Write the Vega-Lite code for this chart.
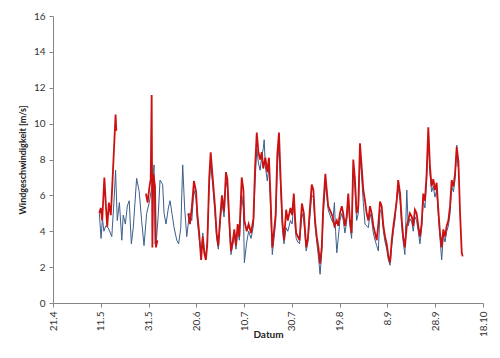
{
  "$schema": "https://vega.github.io/schema/vega-lite/v6.json",
  "width": 430,
  "height": 287,
  "autosize": "none",
  "padding": {"left": 53, "top": 16, "right": 17, "bottom": 55},
  "background": "white",
  "config": {"view": {"stroke": null}, "font": "Lato"},
  "datasets": {
    "blau": [
      {"day":19.4,"speed":5.0},{"day":20.1,"speed":3.6},{"day":20.7,"speed":4.7},{"day":21.3,"speed":4.0},{"day":22.1,"speed":4.3},{"day":23.1,"speed":4.2},{"day":24.6,"speed":3.7},{"day":25.5,"speed":5.6},{"day":26.2,"speed":7.4},{"day":26.9,"speed":4.6},{"day":27.8,"speed":5.6},{"day":28.8,"speed":3.5},{"day":29.4,"speed":4.9},{"day":30.3,"speed":4.4},{"day":31.1,"speed":5.4},{"day":31.9,"speed":5.7},{"day":32.8,"speed":3.3},{"day":33.6,"speed":4.2},{"day":35.0,"speed":6.95},{"day":36.1,"speed":6.2},{"day":37.1,"speed":4.6},{"day":38.1,"speed":3.2},{"day":39.2,"speed":5.0},{"day":40.3,"speed":5.6},{"day":41.4,"speed":6.5},{"day":42.3,"speed":7.7},{"day":42.7,"speed":3.3},{"day":43.4,"speed":3.7},{"day":44.1,"speed":5.0},{"day":44.8,"speed":6.85},{"day":45.9,"speed":6.6},{"day":46.5,"speed":5.0},{"day":47.3,"speed":4.4},{"day":48.3,"speed":5.3},{"day":49.0,"speed":5.7},{"day":49.8,"speed":5.0},{"day":50.7,"speed":4.2},{"day":51.8,"speed":3.5},{"day":52.6,"speed":3.3},{"day":53.5,"speed":4.2},{"day":54.3,"speed":7.7},{"day":55.1,"speed":5.3},{"day":56.0,"speed":3.7},{"day":57.1,"speed":5.0},
      {"day":58.1,"speed":4.6},{"day":59.0,"speed":6.3},{"day":59.9,"speed":5.8},{"day":60.4,"speed":4.6},{"day":61.2,"speed":3.6},{"day":62.0,"speed":2.7},{"day":62.7,"speed":3.9},{"day":63.3,"speed":3.0},{"day":64.0,"speed":2.6},{"day":64.6,"speed":3.5},{"day":65.4,"speed":6.5},{"day":66.0,"speed":7.8},{"day":66.9,"speed":6.5},{"day":67.8,"speed":5.0},{"day":68.5,"speed":3.6},{"day":69.2,"speed":3.0},{"day":69.9,"speed":4.3},{"day":70.7,"speed":5.6},{"day":71.6,"speed":4.8},{"day":72.4,"speed":6.8},{"day":73.0,"speed":6.4},{"day":73.8,"speed":4.3},{"day":74.5,"speed":2.7},{"day":75.2,"speed":3.2},{"day":75.9,"speed":3.8},{"day":76.6,"speed":3.0},{"day":77.3,"speed":4.1},{"day":78.0,"speed":3.5},{"day":79.0,"speed":6.0},{"day":79.7,"speed":5.2},{"day":80.1,"speed":2.25},{"day":81.1,"speed":3.4},{"day":81.9,"speed":4.0},{"day":82.9,"speed":3.6},{"day":83.9,"speed":4.3},{"day":84.6,"speed":6.8},{"day":85.3,"speed":8.6},{"day":86.0,"speed":7.8},{"day":86.7,"speed":7.4},{"day":87.4,"speed":8.2},{"day":88.0,"speed":8.6},{"day":88.4,"speed":9.1},{"day":88.9,"speed":7.6},{"day":89.7,"speed":6.8},{"day":90.4,"speed":7.6},{"day":91.1,"speed":5.2},{"day":91.8,"speed":2.7},{"day":92.5,"speed":3.6},{"day":93.2,"speed":4.5},{"day":93.9,"speed":7.6},{"day":94.6,"speed":8.8},{"day":95.3,"speed":6.4},{"day":96.0,"speed":4.2},{"day":96.7,"speed":3.3},{"day":97.6,"speed":4.2},{"day":98.3,"speed":4.0},{"day":99.4,"speed":4.6},{"day":100.1,"speed":4.4},{"day":100.8,"speed":5.6},{"day":101.4,"speed":4.2},{"day":101.8,"speed":3.6},{"day":102.5,"speed":3.4},{"day":103.2,"speed":3.3},{"day":104.2,"speed":5.0},{"day":105.0,"speed":4.6},{"day":106.0,"speed":2.9},{"day":106.7,"speed":3.4},{"day":107.4,"speed":4.6},{"day":108.3,"speed":6.0},{"day":109.0,"speed":5.9},{"day":109.7,"speed":4.3},{"day":110.4,"speed":3.4},{"day":111.1,"speed":2.6},{"day":111.8,"speed":1.6},{"day":112.5,"speed":2.8},{"day":113.1,"speed":4.8},{"day":114.0,"speed":6.6},{"day":114.6,"speed":6.0},{"day":115.2,"speed":5.2},{"day":116.2,"speed":4.8},{"day":117.1,"speed":4.5},{"day":117.8,"speed":5.6},{"day":118.3,"speed":4.0},{"day":118.8,"speed":2.8},{"day":119.4,"speed":3.6},{"day":120.1,"speed":4.6},{"day":120.9,"speed":5.0},{"day":121.5,"speed":4.6},{"day":122.2,"speed":3.9},{"day":122.9,"speed":4.5},{"day":123.6,"speed":5.7},{"day":124.3,"speed":4.3},{"day":125.0,"speed":3.6},{"day":125.7,"speed":7.4},{"day":126.4,"speed":6.4},{"day":127.1,"speed":4.6},{"day":127.8,"speed":5.0},{"day":128.5,"speed":8.3},{"day":129.2,"speed":7.0},{"day":129.9,"speed":5.6},{"day":130.6,"speed":4.4},{"day":131.3,"speed":4.3},{"day":132.0,"speed":4.2},{"day":132.7,"speed":5.0},{"day":133.4,"speed":4.6},{"day":134.1,"speed":3.9},{"day":134.8,"speed":3.5},{"day":135.5,"speed":3.2},{"day":136.2,"speed":2.9},{"day":136.9,"speed":5.2},{"day":137.6,"speed":5.0},{"day":138.3,"speed":4.0},{"day":139.0,"speed":3.4},{"day":139.7,"speed":3.0},{"day":140.4,"speed":2.4},{"day":141.1,"speed":2.1},{"day":141.8,"speed":3.2},{"day":142.5,"speed":4.0},{"day":143.2,"speed":4.7},{"day":143.9,"speed":6.0},{"day":144.5,"speed":6.4},{"day":145.3,"speed":5.7},{"day":146.0,"speed":4.2},{"day":146.6,"speed":3.4},{"day":147.3,"speed":2.7},{"day":148.1,"speed":6.3},{"day":148.7,"speed":4.3},{"day":149.4,"speed":4.7},{"day":150.2,"speed":4.5},{"day":150.8,"speed":4.0},{"day":151.5,"speed":4.8},{"day":152.2,"speed":4.6},{"day":152.9,"speed":4.0},{"day":153.6,"speed":3.3},{"day":154.3,"speed":4.1},{"day":155.0,"speed":5.7},{"day":155.7,"speed":5.3},{"day":156.4,"speed":6.8},{"day":157.1,"speed":9.2},{"day":157.8,"speed":7.2},{"day":158.5,"speed":6.2},{"day":159.2,"speed":6.5},{"day":159.9,"speed":5.9},{"day":160.6,"speed":6.3},{"day":161.3,"speed":4.9},{"day":162.0,"speed":3.6},{"day":162.7,"speed":2.4},{"day":163.4,"speed":3.8},{"day":164.1,"speed":3.4},{"day":164.8,"speed":4.0},{"day":165.5,"speed":4.3},{"day":166.2,"speed":5.0},{"day":166.9,"speed":6.5},{"day":167.6,"speed":6.2},{"day":168.3,"speed":6.9},{"day":169.0,"speed":8.8},{"day":169.5,"speed":7.6}
    ],
    "rot": [
      {"seg":1,"day":19.4,"speed":5.0},{"seg":1,"day":20.0,"speed":5.3},{"seg":1,"day":20.6,"speed":4.6},{"seg":1,"day":21.5,"speed":7.0},{"seg":1,"day":22.2,"speed":5.3},{"seg":1,"day":22.7,"speed":4.25},{"seg":1,"day":23.4,"speed":5.6},{"seg":1,"day":24.2,"speed":4.9},{"seg":1,"day":24.8,"speed":6.5},{"seg":1,"day":25.5,"speed":8.5},{"seg":1,"day":26.2,"speed":10.5},{"seg":1,"day":26.5,"speed":9.6},
      {"seg":2,"day":38.9,"speed":6.1},{"seg":2,"day":39.6,"speed":5.6},{"seg":2,"day":40.3,"speed":6.4},{"seg":2,"day":40.9,"speed":6.9},{"seg":2,"day":41.3,"speed":11.6},{"seg":2,"day":41.6,"speed":3.1},{"seg":2,"day":42.0,"speed":7.2},{"seg":2,"day":42.7,"speed":6.5},{"seg":2,"day":43.1,"speed":3.1},{"seg":2,"day":43.7,"speed":3.5},
      {"seg":3,"day":56.6,"speed":5.0},{"seg":3,"day":57.3,"speed":4.4},{"seg":3,"day":58.1,"speed":5.3},{"seg":3,"day":59.0,"speed":6.8},{"seg":3,"day":59.9,"speed":6.2},{"seg":3,"day":60.4,"speed":5.0},{"seg":3,"day":61.2,"speed":3.9},{"seg":3,"day":62.0,"speed":2.4},{"seg":3,"day":62.7,"speed":3.7},{"seg":3,"day":63.3,"speed":2.8},{"seg":3,"day":64.0,"speed":2.4},{"seg":3,"day":64.6,"speed":3.3},{"seg":3,"day":65.4,"speed":7.0},{"seg":3,"day":66.0,"speed":8.4},{"seg":3,"day":66.9,"speed":6.9},{"seg":3,"day":67.8,"speed":5.4},{"seg":3,"day":68.5,"speed":3.9},{"seg":3,"day":69.2,"speed":3.2},{"seg":3,"day":69.9,"speed":4.6},{"seg":3,"day":70.7,"speed":6.0},{"seg":3,"day":71.6,"speed":5.1},{"seg":3,"day":72.4,"speed":7.3},{"seg":3,"day":73.0,"speed":6.9},{"seg":3,"day":73.8,"speed":4.6},{"seg":3,"day":74.5,"speed":2.9},{"seg":3,"day":75.2,"speed":3.4},{"seg":3,"day":75.9,"speed":4.1},{"seg":3,"day":76.6,"speed":3.2},{"seg":3,"day":77.3,"speed":4.4},{"seg":3,"day":78.0,"speed":3.7},{"seg":3,"day":79.0,"speed":7.0},{"seg":3,"day":79.7,"speed":6.3},{"seg":3,"day":80.1,"speed":4.6},{"seg":3,"day":81.1,"speed":4.0},{"seg":3,"day":81.9,"speed":4.4},{"seg":3,"day":82.9,"speed":3.9},{"seg":3,"day":83.9,"speed":4.7},{"seg":3,"day":84.6,"speed":7.6},{"seg":3,"day":85.3,"speed":9.5},{"seg":3,"day":86.0,"speed":8.4},{"seg":3,"day":86.7,"speed":8.0},{"seg":3,"day":87.4,"speed":8.4},{"seg":3,"day":88.0,"speed":7.5},{"seg":3,"day":88.9,"speed":8.1},{"seg":3,"day":89.7,"speed":7.3},{"seg":3,"day":90.4,"speed":8.1},{"seg":3,"day":91.1,"speed":5.8},{"seg":3,"day":91.8,"speed":3.1},{"seg":3,"day":92.5,"speed":4.0},{"seg":3,"day":93.2,"speed":4.9},{"seg":3,"day":93.9,"speed":8.3},{"seg":3,"day":94.6,"speed":9.5},{"seg":3,"day":95.3,"speed":6.9},{"seg":3,"day":96.0,"speed":4.6},{"seg":3,"day":96.7,"speed":3.5},{"seg":3,"day":97.6,"speed":5.2},{"seg":3,"day":98.3,"speed":4.6},{"seg":3,"day":99.4,"speed":5.3},{"seg":3,"day":100.1,"speed":4.9},{"seg":3,"day":100.8,"speed":6.1},{"seg":3,"day":101.4,"speed":4.6},{"seg":3,"day":101.8,"speed":3.9},{"seg":3,"day":102.5,"speed":3.7},{"seg":3,"day":103.2,"speed":3.5},{"seg":3,"day":104.2,"speed":5.55},{"seg":3,"day":105.0,"speed":5.0},{"seg":3,"day":106.0,"speed":3.1},{"seg":3,"day":106.7,"speed":3.6},{"seg":3,"day":107.4,"speed":5.0},{"seg":3,"day":108.3,"speed":6.6},{"seg":3,"day":109.0,"speed":6.3},{"seg":3,"day":109.7,"speed":4.6},{"seg":3,"day":110.4,"speed":3.7},{"seg":3,"day":111.1,"speed":3.1},{"seg":3,"day":111.8,"speed":2.2},{"seg":3,"day":112.5,"speed":3.1},{"seg":3,"day":113.1,"speed":5.3},{"seg":3,"day":114.0,"speed":7.2},{"seg":3,"day":114.6,"speed":6.3},{"seg":3,"day":115.2,"speed":5.4},{"seg":3,"day":116.2,"speed":5.1},{"seg":3,"day":117.1,"speed":4.8},{"seg":3,"day":117.8,"speed":4.3},{"seg":3,"day":118.8,"speed":4.6},{"seg":3,"day":119.4,"speed":4.3},{"seg":3,"day":120.1,"speed":5.0},{"seg":3,"day":120.9,"speed":5.4},{"seg":3,"day":121.5,"speed":5.0},{"seg":3,"day":122.2,"speed":4.3},{"seg":3,"day":122.9,"speed":4.8},{"seg":3,"day":123.6,"speed":6.1},{"seg":3,"day":124.3,"speed":4.6},{"seg":3,"day":125.0,"speed":3.9},{"seg":3,"day":125.7,"speed":8.0},{"seg":3,"day":126.4,"speed":6.9},{"seg":3,"day":127.1,"speed":5.0},{"seg":3,"day":127.8,"speed":5.4},{"seg":3,"day":128.5,"speed":8.9},{"seg":3,"day":129.2,"speed":7.6},{"seg":3,"day":129.9,"speed":6.3},{"seg":3,"day":130.6,"speed":5.7},{"seg":3,"day":131.3,"speed":5.0},{"seg":3,"day":132.0,"speed":4.6},{"seg":3,"day":132.7,"speed":5.4},{"seg":3,"day":133.4,"speed":5.0},{"seg":3,"day":134.1,"speed":4.3},{"seg":3,"day":134.8,"speed":3.9},{"seg":3,"day":135.5,"speed":3.5},{"seg":3,"day":136.2,"speed":4.4},{"seg":3,"day":136.9,"speed":5.65},{"seg":3,"day":137.6,"speed":5.4},{"seg":3,"day":138.3,"speed":4.3},{"seg":3,"day":139.0,"speed":3.7},{"seg":3,"day":139.7,"speed":3.3},{"seg":3,"day":140.4,"speed":2.6},{"seg":3,"day":141.1,"speed":2.25},{"seg":3,"day":141.8,"speed":3.5},{"seg":3,"day":142.5,"speed":4.3},{"seg":3,"day":143.2,"speed":5.0},{"seg":3,"day":143.9,"speed":5.7},{"seg":3,"day":144.5,"speed":6.85},{"seg":3,"day":145.3,"speed":6.1},{"seg":3,"day":146.0,"speed":4.6},{"seg":3,"day":146.6,"speed":3.7},{"seg":3,"day":147.3,"speed":3.1},{"seg":3,"day":148.1,"speed":4.3},{"seg":3,"day":148.7,"speed":4.6},{"seg":3,"day":149.4,"speed":5.0},{"seg":3,"day":150.2,"speed":4.8},{"seg":3,"day":150.8,"speed":4.3},{"seg":3,"day":151.5,"speed":5.2},{"seg":3,"day":152.2,"speed":5.0},{"seg":3,"day":152.9,"speed":4.3},{"seg":3,"day":153.6,"speed":3.7},{"seg":3,"day":154.3,"speed":4.4},{"seg":3,"day":155.0,"speed":6.1},{"seg":3,"day":155.7,"speed":5.7},{"seg":3,"day":156.4,"speed":7.2},{"seg":3,"day":157.1,"speed":9.8},{"seg":3,"day":157.8,"speed":7.6},{"seg":3,"day":158.5,"speed":6.5},{"seg":3,"day":159.2,"speed":6.9},{"seg":3,"day":159.9,"speed":6.3},{"seg":3,"day":160.6,"speed":6.7},{"seg":3,"day":161.3,"speed":5.2},{"seg":3,"day":162.0,"speed":3.9},{"seg":3,"day":162.7,"speed":3.1},{"seg":3,"day":163.4,"speed":4.1},{"seg":3,"day":164.1,"speed":3.7},{"seg":3,"day":164.8,"speed":4.3},{"seg":3,"day":165.5,"speed":4.6},{"seg":3,"day":166.2,"speed":5.4},{"seg":3,"day":166.9,"speed":6.85},{"seg":3,"day":167.6,"speed":6.5},{"seg":3,"day":168.3,"speed":7.2},{"seg":3,"day":169.0,"speed":8.7},{"seg":3,"day":169.7,"speed":7.9},{"seg":3,"day":170.4,"speed":5.0},{"seg":3,"day":171.1,"speed":2.8},{"seg":3,"day":171.5,"speed":2.6}
    ]
  },
  "encoding": {
    "x": {
      "field": "day",
      "type": "quantitative",
      "scale": {"domain": [0, 180], "nice": false, "zero": false},
      "axis": {
        "values": [0, 20, 40, 60, 80, 100, 120, 140, 160, 180],
        "labelExpr": "['21.4','11.5','31.5','20.6','10.7','30.7','19.8','8.9','28.9','18.10'][round(datum.value/20)]",
        "labelAngle": -90,
        "labelFlush": false,
        "labelOverlap": false,
        "labelPadding": 4,
        "labelFontSize": 10,
        "labelColor": "#333333",
        "grid": false,
        "tickSize": 4,
        "tickColor": "#868686",
        "domainColor": "#868686",
        "title": "Datum",
        "titleFontSize": 10,
        "titleFontWeight": "bold",
        "titleColor": "#222222",
        "titleBaseline": "top",
        "titleY": 26
      }
    },
    "y": {
      "field": "speed",
      "type": "quantitative",
      "scale": {"domain": [0, 16], "nice": false},
      "axis": {
        "values": [0, 2, 4, 6, 8, 10, 12, 14, 16],
        "labelFlush": false,
        "labelPadding": 4,
        "labelFontSize": 10,
        "labelColor": "#333333",
        "grid": false,
        "tickSize": 4,
        "tickColor": "#868686",
        "domainColor": "#868686",
        "title": "Windgeschwindigkeit [m/s]",
        "titleFontSize": 9,
        "titleFontWeight": "bold",
        "titleColor": "#222222",
        "titleX": -26
      }
    }
  },
  "layer": [
    {
      "data": {"name": "blau"},
      "mark": {"type": "line", "color": "#3c5f8a", "strokeWidth": 1}
    },
    {
      "data": {"name": "rot"},
      "mark": {"type": "line", "color": "#cc1111", "strokeWidth": 1.8},
      "encoding": {"detail": {"field": "seg", "type": "nominal"}}
    }
  ]
}
